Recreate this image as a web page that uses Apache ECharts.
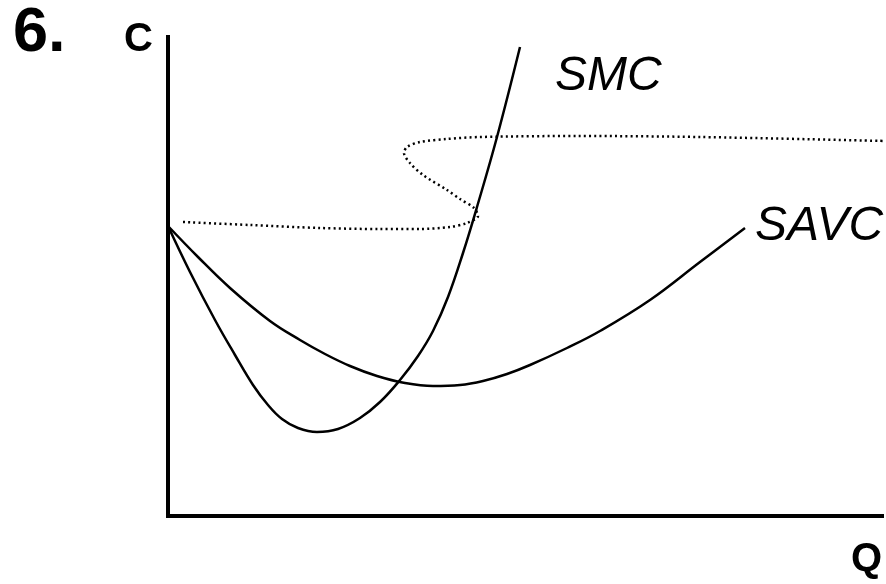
<!DOCTYPE html>
<html>
<head>
<meta charset="utf-8">
<style>
  html, body { margin: 0; padding: 0; background: #fff; }
  #chart { width: 886px; height: 584px; }
</style>
<script src="https://cdn.jsdelivr.net/npm/echarts@6/dist/echarts.min.js"></script>
</head>
<body>
<div id="chart"></div>
<script>
// curve points, [Q, C] in plot units
var smcPoints = [
  [0, 290], [22, 244], [47, 196], [67, 161], [85, 131], [100, 111],
  [114, 97], [130, 88], [149, 84], [170, 87], [192, 98], [212, 114],
  [232, 136], [250, 160], [265, 185], [280, 219], [295, 263], [309, 309],
  [329, 379], [352, 469]
];
var savcPoints = [
  [0, 290], [30, 259], [62, 228], [102, 195], [132, 176], [157, 162],
  [182, 150], [209, 140], [237, 133], [265, 130], [292, 131], [315, 135],
  [339, 142], [362, 151], [399, 168], [432, 185], [482, 216], [532, 254],
  [577, 288]
];
var supplyPoints = [
  [15, 294], [82, 291], [152, 288], [212, 287], [252, 287], [282, 289],
  [299, 293], [310, 300], [306, 308], [292, 317], [279, 326], [255, 341],
  [242, 353], [236, 363], [239, 369], [252, 374], [279, 377], [312, 379],
  [410, 380], [532, 379], [718, 375]
];
var axisNames = { x: 'Q', y: 'C' };

var dom = document.getElementById('chart');
var myChart = echarts.init(dom, null, { renderer: 'canvas' });

var font = '"Liberation Sans", Arial, sans-serif';

var option = {
  animation: false,
  backgroundColor: '#fff',
  grid: { left: 168, right: 4, top: 37, bottom: 68 },
  xAxis: {
    type: 'value',
    min: 0,
    max: 714,
    axisLine: { show: true, lineStyle: { color: '#000', width: 4, cap: 'square' } },
    axisTick: { show: false },
    axisLabel: { show: false },
    splitLine: { show: false }
  },
  yAxis: {
    type: 'value',
    min: 0,
    max: 479,
    axisLine: { show: true, lineStyle: { color: '#000', width: 4, cap: 'square' } },
    axisTick: { show: false },
    axisLabel: { show: false },
    splitLine: { show: false }
  },
  series: [
    {
      name: 'SMC',
      type: 'line',
      data: smcPoints,
      smooth: 0.4,
      showSymbol: false,
      lineStyle: { color: '#000', width: 2.5 }
    },
    {
      name: 'SAVC',
      type: 'line',
      data: savcPoints,
      smooth: 0.4,
      showSymbol: false,
      lineStyle: { color: '#000', width: 2.5 }
    },
    {
      name: 'supply',
      type: 'line',
      data: supplyPoints,
      smooth: 0.3,
      showSymbol: false,
      clip: false,
      lineStyle: { color: '#000', width: 2.5, type: [2, 3.2] }
    }
  ],
  graphic: [
    {
      type: 'text', left: 13, top: 2,
      style: { text: '6.', font: 'bold 63px ' + font, fill: '#000' }
    },
    {
      type: 'text', left: 124, top: 20,
      style: { text: axisNames.y, font: 'bold 40px ' + font, fill: '#000' }
    },
    {
      type: 'text', right: 4, top: 540,
      style: { text: axisNames.x, font: 'bold 40px ' + font, fill: '#000' }
    },
    {
      type: 'text', left: 555, top: 53,
      style: { text: 'SMC', font: 'italic 48px ' + font, fill: '#000' }
    },
    {
      type: 'text', left: 755, top: 203,
      style: { text: 'SAVC', font: 'italic 48px ' + font, fill: '#000' }
    }
  ]
};

myChart.setOption(option);
window.addEventListener('resize', myChart.resize);
</script>
</body>
</html>
